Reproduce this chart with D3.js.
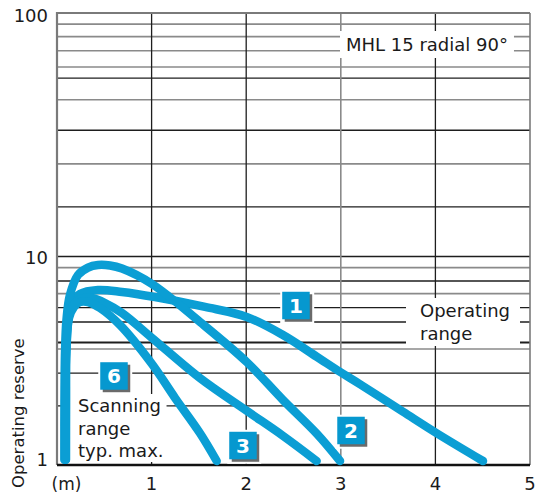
<!DOCTYPE html>
<html><head><meta charset="utf-8">
<script src="https://cdn.jsdelivr.net/npm/d3@7"></script>
<style>html,body{margin:0;padding:0;background:#fff;} svg{display:block;font-family:"DejaVu Sans",sans-serif;}</style>
</head><body><svg id="c" width="536" height="494"></svg>
<script>
// ---- data ----
const xTicks = [1, 2, 3, 4, 5];
const yTicks = [1, 10, 100];
const gridDark = [54, 33, 16, 10, 7.63, 5.68, 4.85, 3.87, 2.76, 1.92];
const gridLight = [90, 80, 70, 60, 44, 24, 8.84, 6.64, 3.60];
const vGridDark = [1, 2, 4];
const vGridLight = [3];
const curve1 = [[0.085,1.06],[0.086,2.0],[0.092,3.5],[0.116,4.96],[0.159,5.98],[0.243,6.61],[0.433,6.91],[0.687,6.76],[1.036,6.39],[1.565,5.73],[2.005,5.13],[2.389,4.20],[2.748,3.30],[2.99,2.80],[3.203,2.44],[3.658,1.80],[4.014,1.42],[4.503,1.045]];
const curve2 = [[0.078,1.06],[0.079,2.0],[0.085,3.5],[0.100,4.96],[0.137,6.54],[0.222,8.15],[0.328,8.85],[0.433,9.1],[0.560,9.05],[0.687,8.75],[1.004,7.38],[1.512,4.85],[2.005,3.12],[2.389,2.05],[2.748,1.41],[2.992,1.045]];
const curve3 = [[0.09,1.06],[0.091,2.0],[0.097,3.5],[0.137,5.42],[0.201,6.05],[0.285,6.32],[0.370,6.32],[0.507,5.98],[0.687,5.36],[1.004,4.07],[1.512,2.61],[2.005,1.82],[2.389,1.38],[2.745,1.045]];
const curve4 = [[0.095,1.06],[0.096,2.0],[0.100,3.5],[0.127,5.07],[0.18,5.73],[0.243,6.05],[0.328,6.05],[0.455,5.66],[0.666,4.69],[1.004,3.05],[1.247,2.10],[1.512,1.42],[1.688,1.045]];
const curves = [curve1, curve2, curve3, curve4];
const badges = [{t:"1", x:2.526, y:5.82}, {t:"2", x:3.108, y:1.464}, {t:"3", x:1.966, y:1.24}, {t:"6", x:0.6025, y:2.673}];

// ---- layout ----
const svg = d3.select("#c");
const x = d3.scaleLinear().domain([0, 5]).range([57, 530]);
const y = d3.scaleLog().domain([1, 10, 100]).range([465, 256.5, 13]);
const BLUE = "#0b9ed4", BOX = "#0698cf", INK = "#1a1a1a";
const FS = 18;

// grid
const g = svg.append("g");
g.selectAll(".hl").data(gridLight).join("line")
  .attr("x1", x(0)).attr("x2", x(5)).attr("y1", d => y(d)).attr("y2", d => y(d))
  .attr("stroke", "#8a8a8a").attr("stroke-width", 1.6);
g.selectAll(".hd").data(gridDark).join("line")
  .attr("x1", x(0)).attr("x2", x(5)).attr("y1", d => y(d)).attr("y2", d => y(d))
  .attr("stroke", "#1e1e1e").attr("stroke-width", d => d === 3.87 ? 1.9 : 1.3);
g.selectAll(".vl").data(vGridLight).join("line")
  .attr("y1", y(100)).attr("y2", y(1)).attr("x1", d => x(d)).attr("x2", d => x(d))
  .attr("stroke", "#8a8a8a").attr("stroke-width", 1.6);
g.selectAll(".vd").data(vGridDark).join("line")
  .attr("y1", y(100)).attr("y2", y(1)).attr("x1", d => x(d)).attr("x2", d => x(d))
  .attr("stroke", "#1e1e1e").attr("stroke-width", 1.3);
// frame
g.append("line").attr("x1", x(0)).attr("x2", x(5)).attr("y1", y(100)).attr("y2", y(100)).attr("stroke", "#7a7a7a").attr("stroke-width", 2);
g.append("line").attr("x1", x(5)).attr("x2", x(5)).attr("y1", y(100)).attr("y2", y(1)).attr("stroke", "#7a7a7a").attr("stroke-width", 1.6);
g.append("line").attr("x1", x(0)).attr("x2", x(0)).attr("y1", y(100)-1).attr("y2", y(1)).attr("stroke", "#7a7a7a").attr("stroke-width", 2.2);

// text labels with white backgrounds
function label(lines, x0, y0, lh, pad) {
  const grp = svg.append("g");
  const bg = grp.append("rect").attr("fill", "#fff");
  const t = grp.append("text").attr("font-size", FS).attr("fill", INK);
  lines.forEach((s, i) => t.append("tspan").attr("x", x0).attr("y", y0 + i * lh).text(s));
  const b = t.node().getBBox();
  bg.attr("x", b.x - pad[0]).attr("y", b.y - pad[1]).attr("width", b.width + pad[0] + pad[2]).attr("height", b.height + pad[1] + pad[3]);
}
label(["MHL 15 radial 90°"], 346, 51, 0, [6, 3, 6, 3]);
label(["Operating", "range"], 420, 317, 23, [14, 2, 10, 2]);
label(["Scanning", "range", "typ. max."], 78, 412, 22.5, [10, 1, 3, 1]);

// bottom axis line
svg.append("line").attr("x1", x(0)).attr("x2", x(5)).attr("y1", y(1)).attr("y2", y(1)).attr("stroke", "#111").attr("stroke-width", 2.5);

// curves
const line = d3.line().x(d => x(d[0])).y(d => y(d[1])).curve(d3.curveCatmullRom.alpha(0.5));
svg.selectAll(".curve").data(curves).join("path")
  .attr("d", line).attr("fill", "none").attr("stroke", BLUE)
  .attr("stroke-width", 8.5).attr("stroke-linecap", "round").attr("stroke-linejoin", "round");

// badges
const S = 27.5;
const bg = svg.selectAll(".badge").data(badges).join("g")
  .attr("transform", d => `translate(${x(d.x) - S/2},${y(d.y) - S/2})`);
bg.append("rect").attr("x", -2).attr("y", -2).attr("width", S + 6.5).attr("height", S + 6.5).attr("fill", "#fff");
bg.append("rect").attr("x", 2.5).attr("y", 2.5).attr("width", S).attr("height", S).attr("fill", "#6a6a6a");
bg.append("rect").attr("width", S).attr("height", S).attr("fill", BOX);
bg.append("text").attr("x", S/2).attr("y", S/2 + 7.5).attr("text-anchor", "middle")
  .attr("font-size", 20).attr("font-weight", "bold").attr("fill", "#fff").text(d => d.t);

// axis tick labels
svg.selectAll(".xt").data(xTicks).join("text")
  .attr("x", d => x(d)).attr("y", 490).attr("text-anchor", "middle")
  .attr("font-size", FS).attr("fill", INK).text(d => d);
svg.append("text").attr("x", 66.5).attr("y", 490).attr("text-anchor", "middle")
  .attr("font-size", 17).attr("fill", INK).text("(m)");
svg.selectAll(".yt").data(yTicks).join("text")
  .attr("x", 48).attr("y", d => Math.min(466, Math.max(21.5, y(d) + 7)))
  .attr("text-anchor", "end").attr("font-size", FS).attr("fill", INK).text(d => d);
svg.append("text").attr("transform", "translate(24,488) rotate(-90)")
  .attr("font-size", 16.5).attr("fill", INK).text("Operating reserve");
</script></body></html>
